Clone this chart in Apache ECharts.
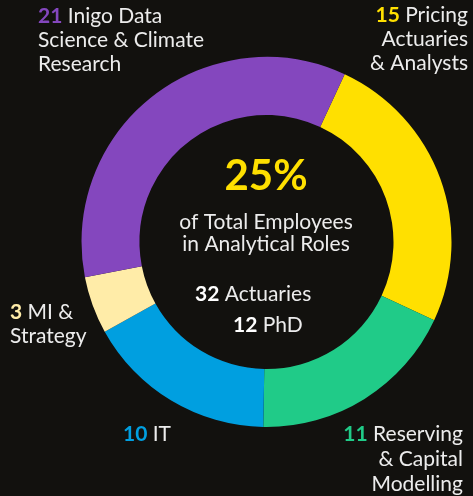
<!DOCTYPE html>
<html>
<head>
<meta charset="utf-8">
<script src="https://cdn.jsdelivr.net/npm/echarts@6/dist/echarts.min.js"></script>
<style>
html,body{margin:0;padding:0;background:#12110e;}
#chart{width:473px;height:496px;}
</style>
</head>
<body>
<div id="chart"></div>
<script>
// Data
const categories = ['Pricing\nActuaries\n& Analysts', 'Reserving\n& Capital\nModelling', 'IT', 'MI &\nStrategy', 'Inigo Data\nScience & Climate\nResearch'];
const values = [15, 11, 10, 3, 21];
const sliceColors = ['#ffe000', '#20cb88', '#009fe0', '#ffeca8', '#8447be'];
const headline = '25%';
const subtitleLines = ['of Total Employees', 'in Analytical Roles'];
const statNumbers = [32, 12];
const statLabels = ['Actuaries', 'PhD'];

const FONT = 'Lato, "Noto Sans", sans-serif';
const TXT = '#ececec';
const FS = 21;

// label placements (x, y, align, verticalAlign) per slice index
const labelPlaces = [
  {x: 468, y: 3, align: 'right', verticalAlign: 'top', lh: 24},
  {x: 463, y: 422, align: 'right', verticalAlign: 'top', lh: 25},
  {x: 123, y: 434, align: 'left', verticalAlign: 'middle', lh: 24},
  {x: 10, y: 300, align: 'left', verticalAlign: 'top', lh: 24},
  {x: 38, y: 4, align: 'left', verticalAlign: 'top', lh: 24}
];

const rich = {};
sliceColors.forEach((c, i) => {
  rich['n' + i] = {fontFamily: FONT, fontSize: FS, fontWeight: 'bold', color: c, lineHeight: labelPlaces[i].lh};
  rich['t' + i] = {fontFamily: FONT, fontSize: FS, color: TXT, lineHeight: labelPlaces[i].lh};
});

const data = categories.map((name, i) => ({
  name: name,
  value: values[i],
  itemStyle: {color: sliceColors[i]}
}));

const chart = echarts.init(document.getElementById('chart'), null, {renderer: 'canvas'});
chart.setOption({
  backgroundColor: '#12110e',
  animation: false,
  series: [{
    type: 'pie',
    center: [266.5, 242],
    radius: [127, 185],
    startAngle: 65,
    clockwise: true,
    data: data,
    itemStyle: {borderWidth: 0},
    emphasis: {disabled: true},
    labelLine: {show: false},
    label: {
      show: true,
      position: 'outside',
      overflow: 'none',
      alignTo: 'none',
      formatter: function (p) {
        const i = p.dataIndex;
        const lines = p.name.split('\n');
        return lines.map((l, k) => (k === 0 ? '{n' + i + '|' + p.value + '}{t' + i + '| ' + l + '}' : '{t' + i + '|' + l + '}')).join('\n');
      },
      rich: rich
    },
    labelLayout: function (p) {
      const pl = labelPlaces[p.dataIndex];
      return {x: pl.x, y: pl.y, align: pl.align, verticalAlign: pl.verticalAlign, hideOverlap: false, moveOverlap: null};
    }
  }],
  graphic: [
    {type: 'text', x: 266, y: 176, style: {text: headline, font: 'bold 42px ' + FONT, fill: '#ffe000', align: 'center', verticalAlign: 'middle'}},
    {type: 'text', x: 266, y: 222, style: {text: subtitleLines[0], font: FS + 'px ' + FONT, fill: TXT, align: 'center', verticalAlign: 'middle'}},
    {type: 'text', x: 266, y: 244, style: {text: subtitleLines[1], font: FS + 'px ' + FONT, fill: TXT, align: 'center', verticalAlign: 'middle'}},
    {type: 'text', x: 195, y: 294, style: {text: '{b|' + statNumbers[0] + '}{r| ' + statLabels[0] + '}', align: 'left', verticalAlign: 'middle',
      rich: {b: {font: 'bold ' + FS + 'px ' + FONT, fill: '#ffffff'}, r: {font: FS + 'px ' + FONT, fill: TXT}}}},
    {type: 'text', x: 233, y: 325, style: {text: '{b|' + statNumbers[1] + '}{r| ' + statLabels[1] + '}', align: 'left', verticalAlign: 'middle',
      rich: {b: {font: 'bold ' + FS + 'px ' + FONT, fill: '#ffffff'}, r: {font: FS + 'px ' + FONT, fill: TXT}}}}
  ]
});
</script>
</body>
</html>
